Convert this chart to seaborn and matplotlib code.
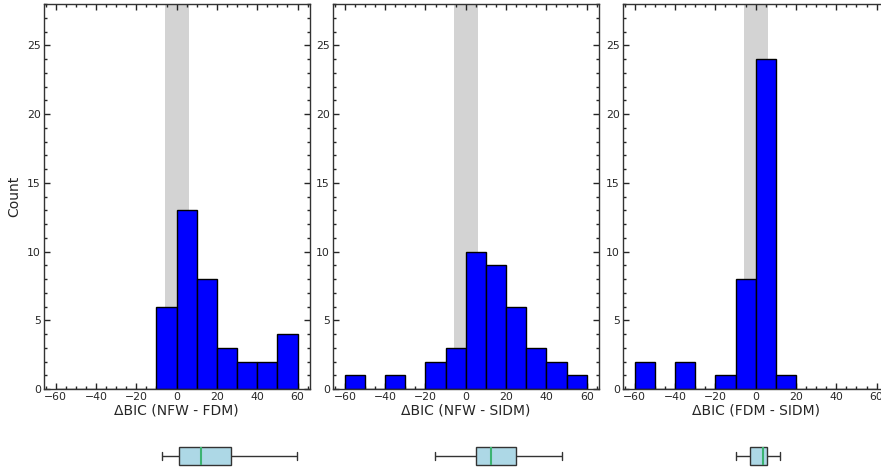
import numpy as np
import pandas as pd
import matplotlib
matplotlib.use("Agg")
import matplotlib.pyplot as plt
import seaborn as sns
from matplotlib.ticker import MultipleLocator

# Values (histogram bins of width 10 and box statistics)
nfw_fdm = [-7, -5, -4, -2.5, -1.5, -0.5,
           0.3, 0.8, 1.0, 1.2, 1.6, 2.5, 3.5, 4.5, 5.5, 6.5, 7.5, 8.5, 9.8,
           14.0, 14.5, 15, 16, 17, 18, 18.5, 19.5,
           26.5, 27.0, 28.5,
           33, 37,
           43, 47,
           52, 55, 57.5, 59.8]
nfw_sidm = [-55, -35, -15.2, -12, -7, -4, -1,
            1.5, 3.5, 5.2, 5.6, 6.5, 7.5, 8.0, 8.5, 9.0, 9.6,
            10.5, 12.2, 13.0, 14, 15, 16.5, 17.5, 18.5, 19.5,
            21, 24.8, 25.2, 26.5, 27.5, 29,
            32, 35, 38,
            44, 47.5,
            57]
fdm_sidm = [-57, -53, -37, -34, -18,
            -9.9, -8, -6.5, -5, -3.1, -2.7, -1.5, -0.5,
            0.5, 1.2, 1.8, 2.4, 3.0, 3.5, 3.7,
            3.9, 4.1, 4.3, 4.6, 4.9, 5.1, 5.3, 5.6, 5.9,
            6.3, 6.8, 7.3, 7.8, 8.3, 8.8, 9.3, 9.8,
            12.1]

datasets = [nfw_fdm, nfw_sidm, fdm_sidm]
xlabels = ["ΔBIC (NFW - FDM)", "ΔBIC (NFW - SIDM)", "ΔBIC (FDM - SIDM)"]
bin_edges = list(range(-60, 61, 10))
band = (-6, 6)

sns.set_theme(style="white")
plt.rcParams['font.family'] = ['DejaVu Sans']
plt.rcParams['text.color'] = '#262626'
plt.rcParams['axes.labelcolor'] = '#262626'

fig = plt.figure(figsize=(8.81, 4.67), dpi=100)
W, H = 881.0, 467.0
lefts = [43.6, 332.8, 622.7]
width = 266.0

for i, (vals, xl) in enumerate(zip(datasets, xlabels)):
    ax = fig.add_axes([lefts[i] / W, 78 / H, width / W, 385 / H])
    ax.axvspan(band[0], band[1], color='lightgrey', zorder=0, lw=0)
    sns.histplot(x=vals, bins=bin_edges, color='blue', edgecolor='black',
                 alpha=1, linewidth=1, ax=ax, zorder=2)
    ax.set_xlim(-66, 66)
    ax.set_ylim(0, 28)
    ax.xaxis.set_major_locator(MultipleLocator(20))
    ax.xaxis.set_minor_locator(MultipleLocator(5))
    ax.yaxis.set_major_locator(MultipleLocator(5))
    ax.yaxis.set_minor_locator(MultipleLocator(1))
    ax.tick_params(which='both', direction='in', top=True, right=True,
                   bottom=True, left=True,
                   labelsize=7.8, colors='#262626', width=1, pad=2)
    ax.tick_params(which='major', length=4)
    ax.tick_params(which='minor', length=2)
    for s in ax.spines.values():
        s.set_color('#333333')
        s.set_linewidth(1)
    ax.set_xlabel(xl, fontsize=10, labelpad=1)
    if i == 0:
        ax.set_ylabel("Count", fontsize=10)
    else:
        ax.set_ylabel("")

    axb = fig.add_axes([lefts[i] / W, 0.0, width / W, 22 / H])
    sns.boxplot(x=vals, ax=axb, color='lightblue', saturation=1, showfliers=False,
                width=0.8, linecolor='#333333', linewidth=1,
                medianprops=dict(color='mediumseagreen', linewidth=1.5))
    axb.set_xlim(-66, 66)
    axb.axis('off')

fig.savefig("out.png", dpi=100)
